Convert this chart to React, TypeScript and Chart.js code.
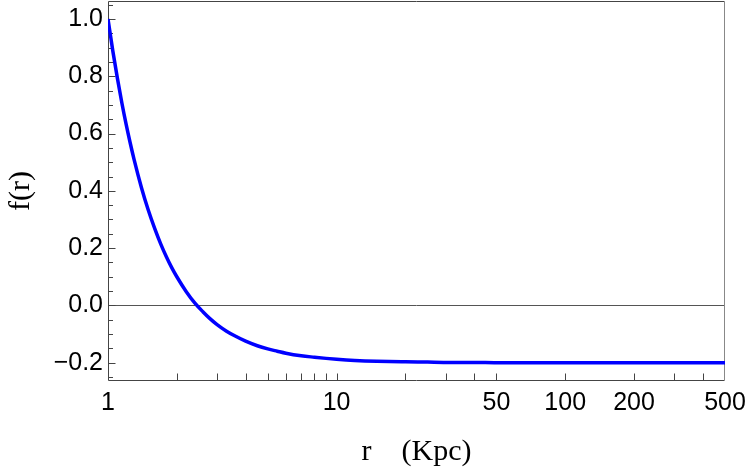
import React, { useEffect, useRef } from "react";
import { Chart, registerables } from "chart.js";

Chart.register(...registerables);

// r (Kpc) sample radii and f(r) values
const radii = [
  1, 1.05, 1.1, 1.15, 1.2, 1.25, 1.3, 1.4, 1.5, 1.6, 1.7, 1.8, 1.9, 2, 2.2, 2.4,
  2.6, 2.8, 3, 3.3, 3.6, 4, 4.5, 5, 5.5, 6, 7, 8, 9, 10, 12, 15, 20, 25, 30, 40,
  50, 70, 100, 150, 200, 300, 500,
];
const fValues = [
  1.0, 0.888, 0.792, 0.707, 0.633, 0.568, 0.51, 0.412, 0.333, 0.269, 0.215,
  0.17, 0.132, 0.1, 0.048, 0.008, -0.022, -0.047, -0.067, -0.09, -0.107,
  -0.125, -0.141, -0.152, -0.16, -0.167, -0.176, -0.181, -0.185, -0.188,
  -0.192, -0.195, -0.197, -0.198, -0.199, -0.199, -0.2, -0.2, -0.2, -0.2,
  -0.2, -0.2, -0.2,
];

const xTickValues = [1, 2, 3, 4, 5, 6, 7, 8, 9, 10, 20, 30, 40, 50, 100, 200, 300, 400, 500];
const xTickLabels = [1, 10, 50, 100, 200, 500];
const yTickValues = [
  -0.25, -0.2, -0.15, -0.1, -0.05, 0, 0.05, 0.1, 0.15, 0.2, 0.25, 0.3, 0.35,
  0.4, 0.45, 0.5, 0.55, 0.6, 0.65, 0.7, 0.75, 0.8, 0.85, 0.9, 0.95, 1.0, 1.05,
];
const yTickLabels = [-0.2, 0, 0.2, 0.4, 0.6, 0.8, 1.0];

const X_MIN = 1;
const X_MAX = 500;
const Y_MIN = -0.264;
const Y_MAX = 1.063;

const isIn = (v: number, arr: number[]) => arr.some((a) => Math.abs(a - v) < 1e-6);

const framePlugin = {
  id: "frameTicks",
  beforeDatasetsDraw(chart: any) {
    const { ctx, chartArea, scales } = chart;
    const { left, right, top, bottom } = chartArea;
    const xs = scales.x;
    const ys = scales.y;
    const L = Math.round(left) + 0.5;
    const R = Math.round(right) - 0.5;
    const T = Math.round(top) + 0.5;
    const B = Math.round(bottom) - 0.5;
    ctx.save();
    ctx.lineWidth = 1;
    // zero line
    const zy = Math.round(ys.getPixelForValue(0)) + 0.5;
    ctx.strokeStyle = "#555";
    ctx.beginPath();
    ctx.moveTo(L, zy);
    ctx.lineTo(R, zy);
    ctx.stroke();
    // frame
    ctx.strokeStyle = "#444";
    ctx.beginPath();
    ctx.moveTo(R, T);
    ctx.lineTo(L, T);
    ctx.lineTo(L, B);
    ctx.lineTo(R, B);
    ctx.stroke();
    ctx.strokeStyle = "#888";
    ctx.beginPath();
    ctx.moveTo(R, T);
    ctx.lineTo(R, B);
    ctx.stroke();
    // inward ticks
    ctx.strokeStyle = "#444";
    ctx.beginPath();
    for (const v of yTickValues) {
      const py = Math.round(ys.getPixelForValue(v)) + 0.5;
      const len = isIn(v, yTickLabels) ? 7 : 4.5;
      ctx.moveTo(L, py);
      ctx.lineTo(L + len, py);
    }
    for (const v of xTickValues) {
      if (v === X_MIN || v === X_MAX) continue;
      const px = Math.round(xs.getPixelForValue(v)) + 0.5;
      ctx.moveTo(px, B);
      ctx.lineTo(px, B - 7);
    }
    ctx.stroke();
    ctx.restore();
  },
};

export default function App() {
  const canvasRef = useRef<HTMLCanvasElement | null>(null);

  useEffect(() => {
    const canvas = canvasRef.current;
    if (!canvas) return;
    const tickFont = { family: '"Liberation Sans", Arial, sans-serif', size: 25 };
    const titleFont = { family: '"Liberation Serif", "Times New Roman", serif', size: 30, lineHeight: 1 };
    const chart = new Chart(canvas, {
      type: "line",
      data: {
        datasets: [
          {
            data: radii.map((r, i) => ({ x: r, y: fValues[i] })),
            borderColor: "#0000ff",
            borderWidth: 3.5,
            pointRadius: 0,
            fill: false,
            cubicInterpolationMode: "monotone",
          },
        ],
      },
      options: {
        animation: false,
        responsive: false,
        devicePixelRatio: 1,
        layout: { padding: { top: 1, right: 22, bottom: 0, left: 0 } },
        plugins: { legend: { display: false }, tooltip: { enabled: false } },
        scales: {
          x: {
            type: "logarithmic",
            min: X_MIN,
            max: X_MAX,
            afterBuildTicks: (s: any) => {
              s.ticks = xTickValues.map((v) => ({ value: v }));
            },
            afterFit: (s: any) => {
              s.height = 86;
              s.paddingLeft = 0;
              s.paddingRight = 0;
            },
            grid: { display: false, drawTicks: false },
            border: { display: false },
            ticks: {
              autoSkip: false,
              maxRotation: 0,
              minRotation: 0,
              padding: 7,
              color: "#000",
              font: tickFont,
              callback: (v: any) => (isIn(Number(v), xTickLabels) ? String(v) : ""),
            },
            title: {
              display: true,
              text: "r    (Kpc)",
              color: "#000",
              font: titleFont,
              padding: 0,
            },
          },
          y: {
            type: "linear",
            min: Y_MIN,
            max: Y_MAX,
            afterBuildTicks: (s: any) => {
              s.ticks = yTickValues.map((v) => ({ value: v }));
            },
            afterFit: (s: any) => {
              s.width = 108;
              s.paddingTop = 0;
              s.paddingBottom = 0;
            },
            grid: { display: false, drawTicks: false },
            border: { display: false },
            ticks: {
              autoSkip: false,
              padding: 5,
              color: "#000",
              font: tickFont,
              callback: (v: any) => {
                const n = Number(v);
                if (!isIn(n, yTickLabels)) return "";
                const s = Math.abs(n).toFixed(1);
                return n < -1e-6 ? "\u2212" + s : s;
              },
            },
            title: {
              display: true,
              text: "f(r)",
              color: "#000",
              font: titleFont,
              padding: 6,
            },
          },
        },
      },
      plugins: [framePlugin],
    } as any);
    return () => chart.destroy();
  }, []);

  return (
    <div style={{ position: "fixed", left: 0, top: 0, width: 747, height: 467, background: "#fff" }}>
      <canvas ref={canvasRef} width={747} height={467} style={{ display: "block" }} />
    </div>
  );
}
